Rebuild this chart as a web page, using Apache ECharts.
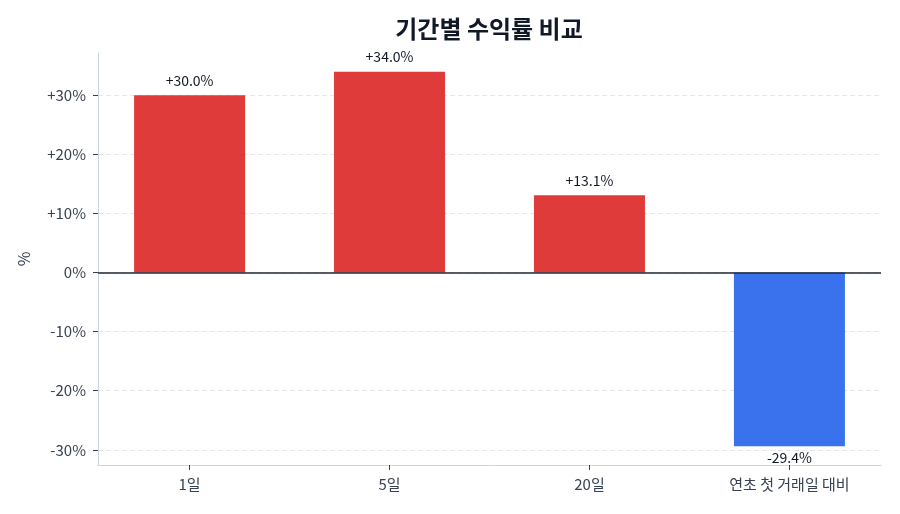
<!DOCTYPE html>
<html><head><meta charset="utf-8">
<script src="https://cdn.jsdelivr.net/npm/echarts@6/dist/echarts.min.js"></script>
<style>html,body{margin:0;padding:0;background:#fff}#c{width:900px;height:514px}</style>
</head><body><div id="c"></div>
<script>
const categories = ['1일', '5일', '20일', '연초 첫 거래일 대비'];
const returns = [30.0, 34.0, 13.1, -29.4];
const yTicks = [-30, -20, -10, 0, 10, 20, 30];
const titleText = '기간별 수익률 비교';

const FONT = '"Noto Sans CJK KR", "Noto Sans", sans-serif';
const lo = Math.min(0, ...returns), hi = Math.max(0, ...returns);
const pad = (hi - lo) * 0.05;
const barW = 0.56;
const xPad = (categories.length - 1 + barW) * 0.05;

const chart = echarts.init(document.getElementById('c'), null, {renderer: 'canvas'});
chart.setOption({
  animation: false,
  backgroundColor: '#ffffff',
  graphic: [{
    type: 'text', x: 489, y: 29,
    style: {text: titleText, align: 'center', verticalAlign: 'middle',
      font: 'bold 24px ' + FONT, fill: '#111827'}
  }],
  grid: {left: 98, right: 19, top: 53, bottom: 49},
  xAxis: {
    type: 'value',
    min: -barW / 2 - xPad,
    max: categories.length - 1 + barW / 2 + xPad,
    axisLine: {show: true, onZero: false, lineStyle: {color: '#cbd5e1', width: 1}},
    axisTick: {show: true, customValues: categories.map((c, i) => i), length: 5, lineStyle: {color: '#374151'}},
    axisLabel: {customValues: categories.map((c, i) => i), formatter: v => categories[Math.round(v)],
      fontFamily: FONT, fontSize: 15, color: '#374151', margin: 12},
    splitLine: {show: false}
  },
  yAxis: {
    type: 'value',
    min: lo - pad, max: hi + pad,
    name: '%', nameLocation: 'middle', nameGap: 66, nameRotate: 90,
    nameTextStyle: {fontFamily: FONT, fontSize: 16, color: '#374151'},
    axisLine: {show: true, onZero: false, lineStyle: {color: '#cbd5e1', width: 1}},
    axisTick: {show: true, customValues: yTicks, length: 5, lineStyle: {color: '#374151'}},
    axisLabel: {customValues: yTicks, formatter: v => (v > 0 ? '+' : '') + v + '%',
      fontFamily: FONT, fontSize: 15, color: '#374151', margin: 12},
    splitLine: {show: true, lineStyle: {color: '#e5e7eb', type: [5, 3], width: 1}}
  },
  series: [{
    type: 'bar',
    barWidth: 111,
    data: returns.map((v, i) => ({
      value: [i, v],
      itemStyle: {color: v >= 0 ? 'rgba(220,38,38,0.9)' : 'rgba(37,99,235,0.9)'},
      label: {position: v >= 0 ? 'top' : 'bottom', distance: v >= 0 ? 8 : 4}
    })),
    label: {show: true, fontFamily: FONT, fontSize: 14, color: '#111827',
      formatter: p => (p.value[1] > 0 ? '+' : '') + p.value[1].toFixed(1) + '%'},
    markLine: {
      silent: true, symbol: 'none', label: {show: false},
      lineStyle: {color: '#1f2937', width: 1.5, type: 'solid'},
      data: [{yAxis: 0}]
    }
  }]
});
</script></body></html>
